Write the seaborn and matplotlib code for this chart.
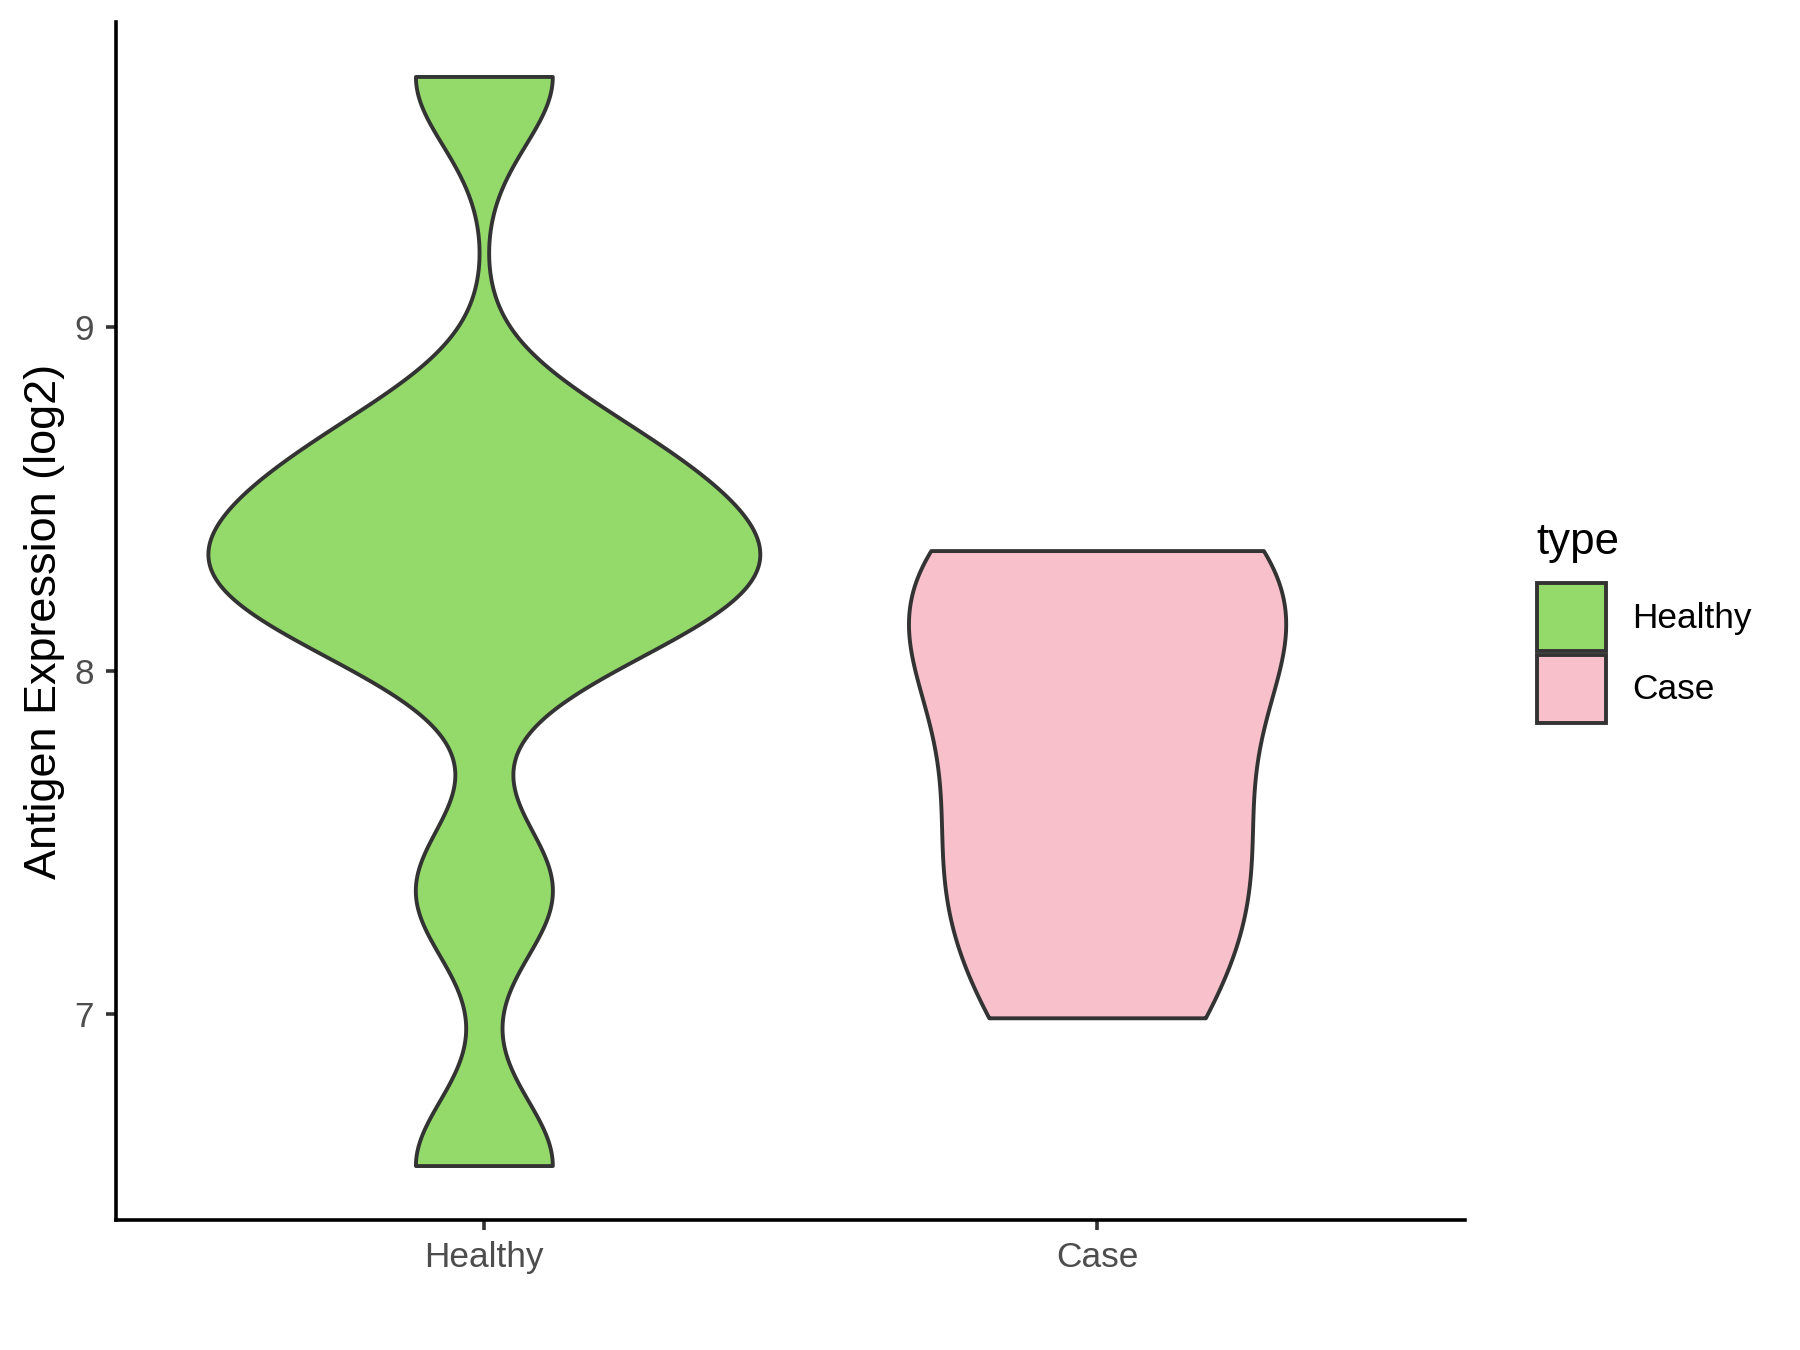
import numpy as np
import pandas as pd
import matplotlib
matplotlib.use("Agg")
import matplotlib.pyplot as plt
from matplotlib.patches import Patch
import seaborn as sns

# === Data ===
types = ["Healthy", "Case"]
healthy_vals = [6.56, 7.36, 8.09, 8.22, 8.31, 8.39, 8.55, 8.69, 9.73]
case_vals = [6.99, 7.35, 7.58, 8.10, 8.20, 8.35]
fill_colors = ["#93DA6A", "#F7C0CB"]
y_ticks = [7, 8, 9]
y_title = "Antigen Expression (log2)"
legend_title = "type"

df = pd.DataFrame({
    "type": ["Healthy"] * len(healthy_vals) + ["Case"] * len(case_vals),
    "value": healthy_vals + case_vals,
})


def nrd0(kde):
    # R's bw.nrd0, handed back to scipy as a factor of the sd
    x = kde.dataset[0]
    sd = np.std(x, ddof=1)
    q1, q3 = np.percentile(x, [25, 75])
    h = 0.9 * min(sd, (q3 - q1) / 1.34) * len(x) ** -0.2
    return h / sd


sns.set_style("ticks")
plt.rcParams["font.family"] = ["Liberation Sans", "DejaVu Sans"]
plt.rcParams["text.color"] = "black"

fig = plt.figure(figsize=(9, 6.75), dpi=200)
ax = fig.add_axes([0.0644, 0.0963, 0.7495, 0.8874])

sns.violinplot(
    data=df, x="type", y="value", hue="type",
    order=types, hue_order=types, palette=fill_colors, saturation=1,
    inner=None, cut=0, width=0.9, bw_method=nrd0, gridsize=512,
    density_norm="area", common_norm=True,
    linewidth=1.4, linecolor="#333333", legend=False, ax=ax,
)

# ggplot-like limits: 0.6 padding on the discrete axis, 5% on the continuous one
lo, hi = df["value"].min(), df["value"].max()
pad = 0.05 * (hi - lo)
ax.set_ylim(lo - pad, hi + pad)
ax.set_xlim(-0.6, len(types) - 0.4)
ax.set_yticks(y_ticks)

ax.set_xlabel("")
ax.set_ylabel(y_title, fontsize=16.2, color="black")
ax.yaxis.set_label_coords(-0.038, 0.5)

for side in ["top", "right"]:
    ax.spines[side].set_visible(False)
for side in ["left", "bottom"]:
    ax.spines[side].set_linewidth(1.3)
    ax.spines[side].set_color("black")

ax.tick_params(length=3.6, width=1.3, color="#333333",
               labelsize=12.7, labelcolor="#4D4D4D")
ax.tick_params(axis="x", pad=4.0)
ax.tick_params(axis="y", pad=4.3)

# legend on the right, title drawn separately for the wider gap
fig.text(1536 / 1800, 1 - 554 / 1350, legend_title, fontsize=15.8,
         ha="left", va="baseline", color="black")
handles = [Patch(facecolor=c, edgecolor="#333333", linewidth=1.4) for c in fill_colors]
leg = fig.legend(handles, types, loc="upper left",
                 bbox_to_anchor=(1537 / 1800, 1 - 583 / 1350),
                 frameon=False, fontsize=12.7, handlelength=1.955, handleheight=2.586,
                 labelspacing=0.11, handletextpad=0.74, borderpad=0, borderaxespad=0)
for t in leg.get_texts():
    t.set_color("black")

fig.savefig("out.png", dpi=200, facecolor="white")
